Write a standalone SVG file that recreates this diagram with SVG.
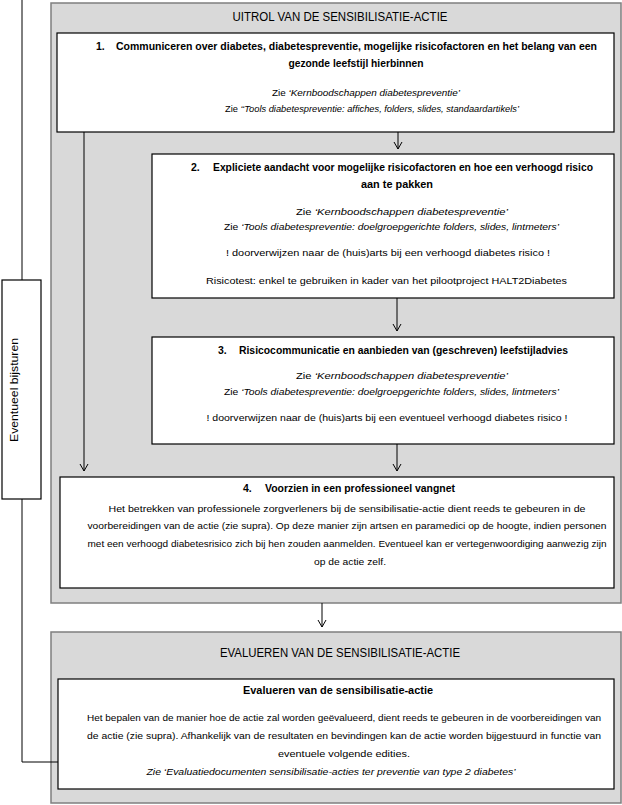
<svg xmlns="http://www.w3.org/2000/svg" width="622" height="805" viewBox="0 0 622 805">
<style>
text{font-family:"Liberation Sans",Arial,sans-serif;fill:#000;}
.panel{fill:#d9d9d9;stroke:#7f7f7f;stroke-width:1.5;}
.box{fill:#fff;stroke:#000;stroke-width:1.2;}
.title{font-size:12.5px;text-anchor:middle;}
.h{font-size:10.5px;font-weight:bold;}
.hc{font-size:10.5px;font-weight:bold;text-anchor:middle;}
.b{font-size:9.5px;text-anchor:middle;}
.i{font-size:9.5px;text-anchor:middle;}
.it{font-style:italic;}
.c{fill:none;stroke:#000;stroke-width:1;}
</style>
<defs>
<marker id="arr" markerUnits="userSpaceOnUse" markerWidth="12" markerHeight="12" viewBox="-10 -6 12 12" refX="0" refY="0" orient="auto">
<path d="M-7,-4 L0,0 L-7,4" fill="none" stroke="#000" stroke-width="1"/>
</marker>
</defs>

<g id="panel-uitrol">
<rect class="panel" x="51" y="3" width="570" height="600"/>
<text class="title" x="340" y="21" textLength="215" lengthAdjust="spacingAndGlyphs">UITROL VAN DE SENSIBILISATIE-ACTIE</text>
</g>

<g id="panel-evalueren">
<rect class="panel" x="51" y="632" width="570" height="171"/>
<text class="title" x="340" y="657" textLength="240" lengthAdjust="spacingAndGlyphs">EVALUEREN VAN DE SENSIBILISATIE-ACTIE</text>
</g>

<g id="node-1">
<rect class="box" x="57" y="33" width="557" height="99"/>
<text class="h" x="96" y="50">1.</text>
<text class="h" x="116" y="50" textLength="481" lengthAdjust="spacingAndGlyphs">Communiceren over diabetes, diabetespreventie, mogelijke risicofactoren en het belang van een</text>
<text class="hc" x="356" y="67" textLength="135" lengthAdjust="spacingAndGlyphs">gezonde leefstijl hierbinnen</text>
<text class="i" x="366" y="96" textLength="188" lengthAdjust="spacingAndGlyphs">Zie <tspan class="it">‘Kernboodschappen diabetespreventie’</tspan></text>
<text class="i" x="372" y="112" textLength="294" lengthAdjust="spacingAndGlyphs">Zie <tspan class="it">‘‘Tools diabetespreventie: affiches, folders, slides, standaardartikels’</tspan></text>
</g>

<g id="node-2">
<rect class="box" x="152" y="154" width="462" height="144"/>
<text class="h" x="191" y="171">2.</text>
<text class="h" x="213" y="171" textLength="380" lengthAdjust="spacingAndGlyphs">Expliciete aandacht voor mogelijke risicofactoren en hoe een verhoogd risico</text>
<text class="hc" x="397" y="188" textLength="72" lengthAdjust="spacingAndGlyphs">aan te pakken</text>
<text class="i" x="402" y="215" textLength="212" lengthAdjust="spacingAndGlyphs">Zie <tspan class="it">‘Kernboodschappen diabetespreventie’</tspan></text>
<text class="i" x="391.5" y="230" textLength="335" lengthAdjust="spacingAndGlyphs">Zie <tspan class="it">‘Tools diabetespreventie: doelgroepgerichte folders, slides, lintmeters’</tspan></text>
<text class="b" x="388" y="256" textLength="324" lengthAdjust="spacingAndGlyphs">! doorverwijzen naar de (huis)arts bij een verhoogd diabetes risico !</text>
<text class="b" x="386.5" y="284" textLength="361" lengthAdjust="spacingAndGlyphs">Risicotest: enkel te gebruiken in kader van het pilootproject HALT2Diabetes</text>
</g>

<g id="node-3">
<rect class="box" x="152" y="337" width="462" height="107"/>
<text class="h" x="218" y="354">3.</text>
<text class="h" x="239" y="354" textLength="329" lengthAdjust="spacingAndGlyphs">Risicocommunicatie en aanbieden van (geschreven) leefstijladvies</text>
<text class="i" x="402" y="379" textLength="212" lengthAdjust="spacingAndGlyphs">Zie <tspan class="it">‘Kernboodschappen diabetespreventie’</tspan></text>
<text class="i" x="391.5" y="395" textLength="335" lengthAdjust="spacingAndGlyphs">Zie <tspan class="it">‘Tools diabetespreventie: doelgroepgerichte folders, slides, lintmeters’</tspan></text>
<text class="b" x="387" y="421" textLength="361" lengthAdjust="spacingAndGlyphs">! doorverwijzen naar de (huis)arts bij een eventueel verhoogd diabetes risico !</text>
</g>

<g id="node-4">
<rect class="box" x="60" y="477" width="554" height="111"/>
<text class="h" x="243" y="492">4.</text>
<text class="h" x="265" y="492" textLength="190" lengthAdjust="spacingAndGlyphs">Voorzien in een professioneel vangnet</text>
<text class="b" x="347" y="512" textLength="477" lengthAdjust="spacingAndGlyphs">Het betrekken van professionele zorgverleners bij de sensibilisatie-actie dient reeds te gebeuren in de</text>
<text class="b" x="347" y="529" textLength="519" lengthAdjust="spacingAndGlyphs">voorbereidingen van de actie (zie supra). Op deze manier zijn artsen en paramedici op de hoogte, indien personen</text>
<text class="b" x="347" y="547" textLength="519" lengthAdjust="spacingAndGlyphs">met een verhoogd diabetesrisico zich bij hen zouden aanmelden. Eventueel kan er vertegenwoordiging aanwezig zijn</text>
<text class="b" x="350" y="565" textLength="72" lengthAdjust="spacingAndGlyphs">op de actie zelf.</text>
</g>

<g id="node-5">
<rect class="box" x="58" y="679" width="556" height="110"/>
<text class="hc" x="338" y="694" textLength="190" lengthAdjust="spacingAndGlyphs">Evalueren van de sensibilisatie-actie</text>
<text class="b" x="344" y="721" textLength="514" lengthAdjust="spacingAndGlyphs">Het bepalen van de manier hoe de actie zal worden geëvalueerd, dient reeds te gebeuren in de voorbereidingen van</text>
<text class="b" x="344" y="739" textLength="514" lengthAdjust="spacingAndGlyphs">de actie (zie supra). Afhankelijk van de resultaten en bevindingen kan de actie worden bijgestuurd in functie van</text>
<text class="b" x="344" y="757" textLength="132" lengthAdjust="spacingAndGlyphs">eventuele volgende edities.</text>
<text class="i" x="331" y="775" textLength="369" lengthAdjust="spacingAndGlyphs"><tspan class="it">Zie ‘Evaluatiedocumenten sensibilisatie-acties ter preventie van type 2 diabetes’</tspan></text>
</g>

<g id="node-bijsturen">
<rect class="box" x="2" y="280" width="39" height="219"/>
<text font-size="11" text-anchor="middle" transform="translate(17.5,390) rotate(-90)" textLength="104" lengthAdjust="spacingAndGlyphs">Eventueel bijsturen</text>
</g>

<g id="connectors">
<line class="c" x1="84" y1="132" x2="84" y2="471" marker-end="url(#arr)"/>
<line class="c" x1="398" y1="132" x2="398" y2="149" marker-end="url(#arr)"/>
<line class="c" x1="397" y1="298" x2="397" y2="331" marker-end="url(#arr)"/>
<line class="c" x1="397" y1="444" x2="397" y2="471" marker-end="url(#arr)"/>
<line class="c" x1="322" y1="603" x2="322" y2="627" marker-end="url(#arr)"/>
<polyline class="c" points="58,762 22,762 22,499"/>
<line class="c" x1="22" y1="280" x2="22" y2="0"/>
</g>
</svg>
